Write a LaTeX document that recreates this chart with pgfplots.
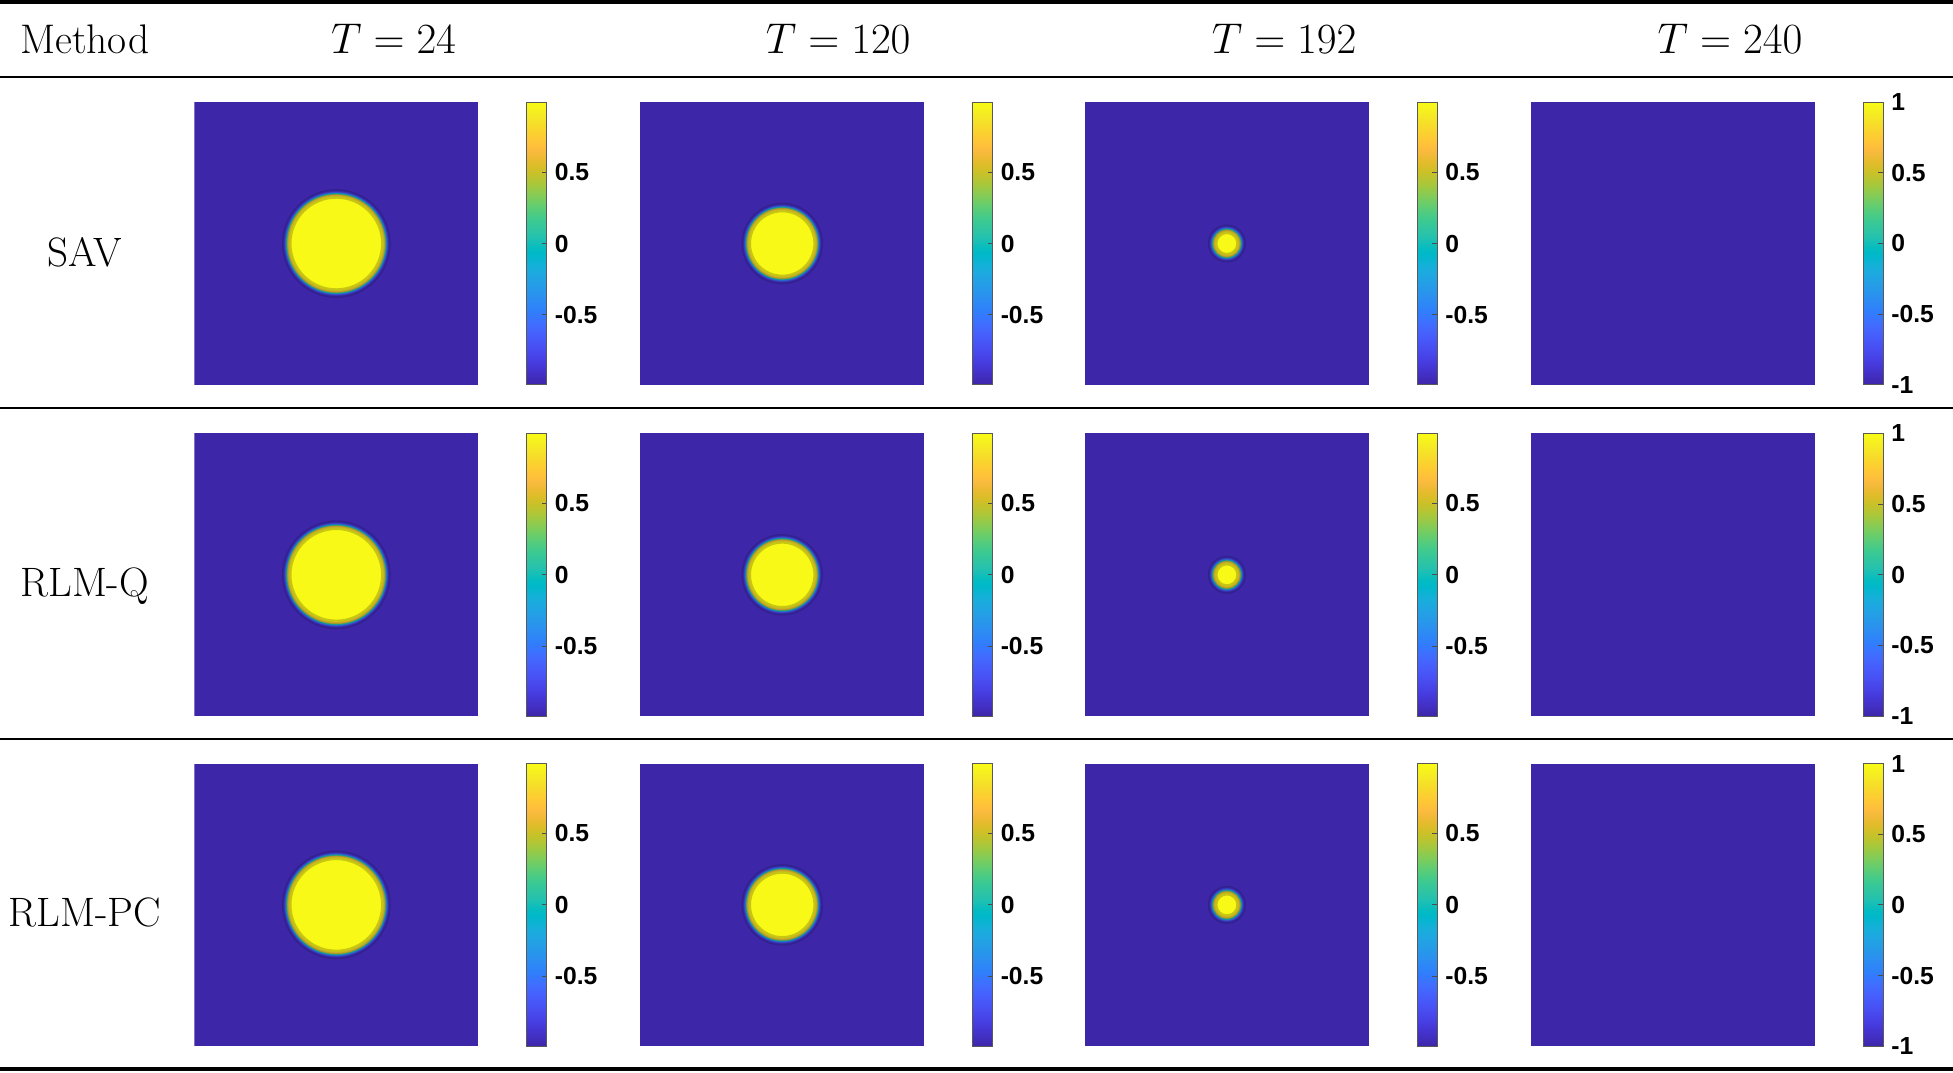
\documentclass[border=0pt]{standalone}
\usepackage{fontspec}
\setsansfont{Liberation Sans}
\usepackage{pgfplots}
\usepackage{pgfplotstable}
\pgfplotsset{compat=1.18}

\definecolor{pbg}{rgb}{0.2422,0.1504,0.6603}

\pgfplotsset{
  colormap={parula}{
    rgb=(0.2422,0.1504,0.6603) rgb=(0.2504,0.1650,0.7076) rgb=(0.2578,0.1818,0.7511) rgb=(0.2647,0.1978,0.7952)
    rgb=(0.2706,0.2147,0.8364) rgb=(0.2751,0.2342,0.8710) rgb=(0.2783,0.2559,0.8991) rgb=(0.2803,0.2782,0.9221)
    rgb=(0.2813,0.3006,0.9414) rgb=(0.2810,0.3228,0.9579) rgb=(0.2795,0.3447,0.9717) rgb=(0.2760,0.3667,0.9829)
    rgb=(0.2699,0.3892,0.9906) rgb=(0.2602,0.4123,0.9952) rgb=(0.2440,0.4358,0.9988) rgb=(0.2206,0.4603,0.9973)
    rgb=(0.1963,0.4847,0.9892) rgb=(0.1834,0.5074,0.9798) rgb=(0.1786,0.5289,0.9682) rgb=(0.1764,0.5499,0.9520)
    rgb=(0.1687,0.5703,0.9359) rgb=(0.1540,0.5902,0.9218) rgb=(0.1460,0.6091,0.9079) rgb=(0.1380,0.6276,0.8973)
    rgb=(0.1248,0.6459,0.8883) rgb=(0.1113,0.6635,0.8763) rgb=(0.0952,0.6798,0.8598) rgb=(0.0689,0.6948,0.8394)
    rgb=(0.0297,0.7082,0.8163) rgb=(0.0036,0.7203,0.7917) rgb=(0.0067,0.7312,0.7660) rgb=(0.0433,0.7411,0.7394)
    rgb=(0.0964,0.7500,0.7120) rgb=(0.1408,0.7584,0.6842) rgb=(0.1717,0.7670,0.6554) rgb=(0.1938,0.7758,0.6251)
    rgb=(0.2161,0.7843,0.5923) rgb=(0.2470,0.7918,0.5567) rgb=(0.2906,0.7973,0.5188) rgb=(0.3406,0.8008,0.4789)
    rgb=(0.3909,0.8029,0.4354) rgb=(0.4456,0.8024,0.3909) rgb=(0.5044,0.7993,0.3480) rgb=(0.5616,0.7942,0.3045)
    rgb=(0.6174,0.7876,0.2612) rgb=(0.6720,0.7793,0.2227) rgb=(0.7242,0.7698,0.1910) rgb=(0.7738,0.7598,0.1646)
    rgb=(0.8203,0.7498,0.1535) rgb=(0.8634,0.7406,0.1596) rgb=(0.9035,0.7330,0.1774) rgb=(0.9393,0.7288,0.2100)
    rgb=(0.9728,0.7298,0.2394) rgb=(0.9956,0.7434,0.2371) rgb=(0.9970,0.7659,0.2199) rgb=(0.9952,0.7893,0.2028)
    rgb=(0.9892,0.8136,0.1885) rgb=(0.9786,0.8386,0.1766) rgb=(0.9676,0.8639,0.1643) rgb=(0.9610,0.8890,0.1537)
    rgb=(0.9597,0.9135,0.1423) rgb=(0.9628,0.9373,0.1265) rgb=(0.9691,0.9606,0.1064) rgb=(0.9769,0.9839,0.0805)
  },
  cbar/.style={
    at={(parent axis.north east)}, anchor=north west, xshift=11pt,
    scale only axis, width=8pt, height=113.5pt,
    axis line style={draw=black!65, line width=0.4pt},
    tick align=inside, major tick length=2pt,
    tick style={draw=black!70, line width=0.4pt},
    xtick=\empty, ytick pos=right, yticklabel pos=right,
    yticklabel style={font=\sffamily\bfseries\fontsize{9.9}{11}\selectfont, inner sep=0pt, xshift=3pt},
  },
  panel/.style={
    scale only axis, width=114pt, height=113.5pt,
    xmin=-1, xmax=1, ymin=-1, ymax=1,
    axis line style={draw=none}, xtick=\empty, ytick=\empty,
    anchor=south west,
    colormap name=parula, colorbar,
    point meta min=-0.99, point meta max=0.99,
    colorbar style={cbar, ytick={-0.5,0,0.5}, yticklabels={-0.5,0,0.5}},
  },
  panelfull/.style={
    panel, point meta min=-1, point meta max=1,
    colorbar style={ytick={-1,-0.5,0,0.5,1}, yticklabels={-1,-0.5,0,0.5,1}},
  },
  disc/.style={
    scatter, only marks, mark=*, point meta=explicit,
    visualization depends on={\thisrow{r} \as \rad},
    scatter/@pre marker code/.append style={/tikz/mark size=\rad*57},
  },
}

% disc layers: radius r (axis units) and field value u
\pgfplotstableread{
x y r u
0 0 0.379 -0.980
0 0 0.375 -0.964
0 0 0.371 -0.935
0 0 0.367 -0.882
0 0 0.363 -0.792
0 0 0.359 -0.646
0 0 0.355 -0.431
0 0 0.351 -0.153
0 0 0.347 0.153
0 0 0.343 0.431
0 0 0.339 0.646
0 0 0.335 0.792
0 0 0.331 0.882
0 0 0.327 0.935
0 0 0.323 0.964
0 0 0.319 0.980
}\discA
\pgfplotstableread{
x y r u
0 0 0.283 -0.980
0 0 0.279 -0.964
0 0 0.275 -0.935
0 0 0.271 -0.882
0 0 0.267 -0.792
0 0 0.263 -0.646
0 0 0.259 -0.431
0 0 0.255 -0.153
0 0 0.251 0.153
0 0 0.247 0.431
0 0 0.243 0.646
0 0 0.239 0.792
0 0 0.235 0.882
0 0 0.231 0.935
0 0 0.227 0.964
0 0 0.223 0.980
}\discB
\pgfplotstableread{
x y r u
0 0 0.130 -0.980
0 0 0.126 -0.964
0 0 0.122 -0.935
0 0 0.118 -0.882
0 0 0.114 -0.792
0 0 0.110 -0.646
0 0 0.106 -0.431
0 0 0.102 -0.153
0 0 0.098 0.153
0 0 0.094 0.431
0 0 0.090 0.646
0 0 0.086 0.792
0 0 0.082 0.882
0 0 0.078 0.935
0 0 0.074 0.964
0 0 0.070 0.980
}\discC

\newcommand{\bg}{\addplot[fill=pbg, draw=none] coordinates {(-1,-1) (1,-1) (1,1) (-1,1)} -- cycle;}

\begin{document}
\begin{tikzpicture}
\path[use as bounding box] (0pt,0pt) rectangle (784pt,-430.5pt);

% rules
\draw[line width=1.6pt] (0pt,-0.8pt) -- (784pt,-0.8pt);
\draw[line width=1pt] (0pt,-30.9pt) -- (784pt,-30.9pt);
\draw[line width=1pt] (0pt,-163.8pt) -- (784pt,-163.8pt);
\draw[line width=1pt] (0pt,-296.6pt) -- (784pt,-296.6pt);
\draw[line width=1.6pt] (0pt,-429.2pt) -- (784pt,-429.2pt);

% header
\node[anchor=base, inner sep=0pt, font=\fontsize{16.6}{19}\selectfont] at (34pt,-21.4pt) {Method};
\node[anchor=base, inner sep=0pt, font=\fontsize{18.9}{22}\selectfont] at (158pt,-21.4pt) {$T=24$};
\node[anchor=base, inner sep=0pt, font=\fontsize{18.9}{22}\selectfont] at (336.5pt,-21.4pt) {$T=120$};
\node[anchor=base, inner sep=0pt, font=\fontsize{18.9}{22}\selectfont] at (515.5pt,-21.4pt) {$T=192$};
\node[anchor=base, inner sep=0pt, font=\fontsize{18.9}{22}\selectfont] at (694.5pt,-21.4pt) {$T=240$};

% row labels
\node[anchor=base, inner sep=0pt, font=\fontsize{16.5}{19}\selectfont] at (34pt,-107pt) {SAV};
\node[anchor=base, inner sep=0pt, font=\fontsize{16.5}{19}\selectfont] at (34pt,-239.5pt) {RLM-Q};
\node[anchor=base, inner sep=0pt, font=\fontsize{16.5}{19}\selectfont] at (34pt,-372pt) {RLM-PC};

% ---- row 1: SAV
\begin{axis}[panel, at={(78pt,-154.5pt)}]
\bg
\addplot[disc] table[meta=u] {\discA};
\end{axis}
\begin{axis}[panel, at={(257pt,-154.5pt)}]
\bg
\addplot[disc] table[meta=u] {\discB};
\end{axis}
\begin{axis}[panel, at={(435.5pt,-154.5pt)}]
\bg
\addplot[disc] table[meta=u] {\discC};
\end{axis}
\begin{axis}[panelfull, at={(614.5pt,-154.5pt)}]
\bg
\end{axis}

% ---- row 2: RLM-Q
\begin{axis}[panel, at={(78pt,-287.5pt)}]
\bg
\addplot[disc] table[meta=u] {\discA};
\end{axis}
\begin{axis}[panel, at={(257pt,-287.5pt)}]
\bg
\addplot[disc] table[meta=u] {\discB};
\end{axis}
\begin{axis}[panel, at={(435.5pt,-287.5pt)}]
\bg
\addplot[disc] table[meta=u] {\discC};
\end{axis}
\begin{axis}[panelfull, at={(614.5pt,-287.5pt)}]
\bg
\end{axis}

% ---- row 3: RLM-PC
\begin{axis}[panel, at={(78pt,-420pt)}]
\bg
\addplot[disc] table[meta=u] {\discA};
\end{axis}
\begin{axis}[panel, at={(257pt,-420pt)}]
\bg
\addplot[disc] table[meta=u] {\discB};
\end{axis}
\begin{axis}[panel, at={(435.5pt,-420pt)}]
\bg
\addplot[disc] table[meta=u] {\discC};
\end{axis}
\begin{axis}[panelfull, at={(614.5pt,-420pt)}]
\bg
\end{axis}
\end{tikzpicture}
\end{document}
